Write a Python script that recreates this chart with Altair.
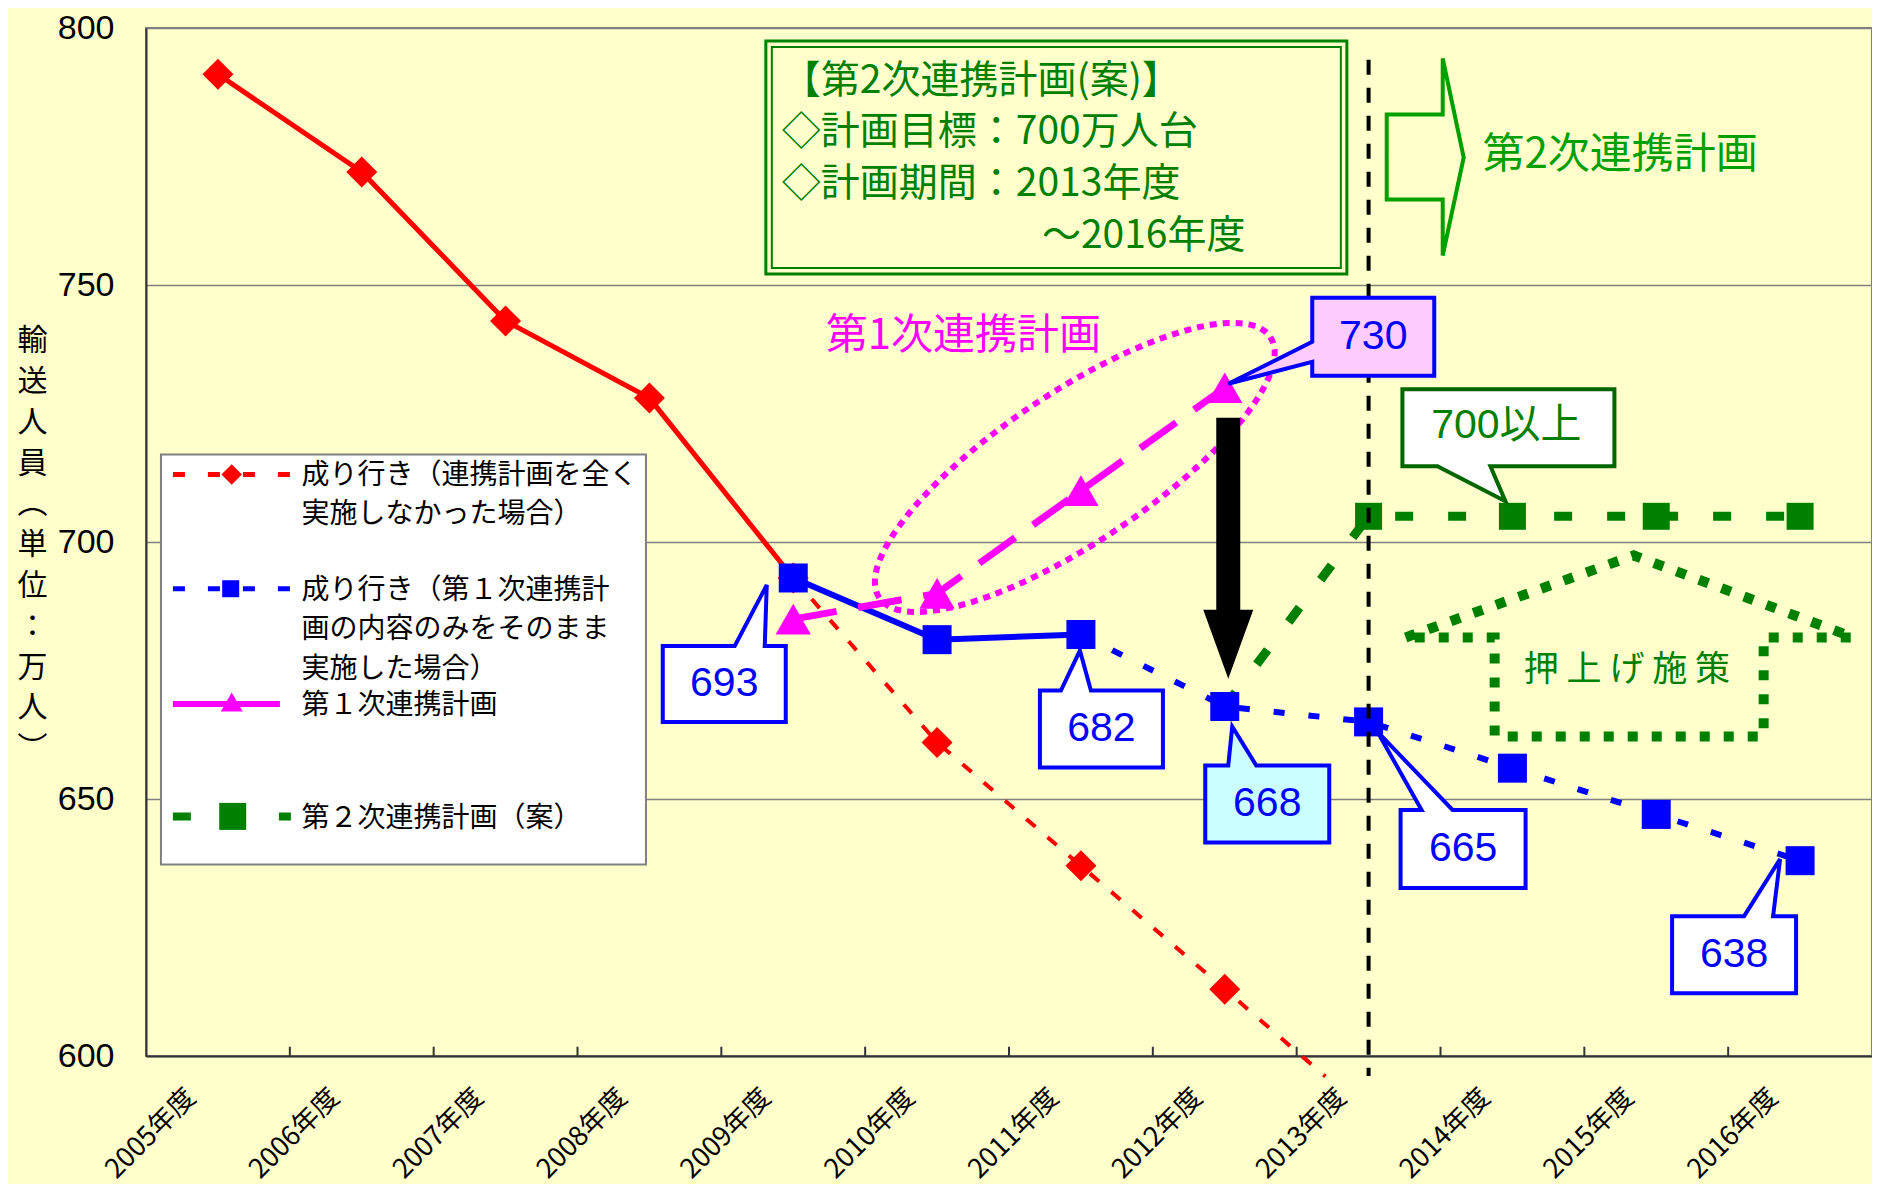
import altair as alt
import pandas as pd
import numpy as np

# ---------------- data ----------------
years = [2005, 2006, 2007, 2008, 2009, 2010, 2011, 2012, 2013, 2014, 2015, 2016]
tick_bounds = [2005.5, 2006.5, 2007.5, 2008.5, 2009.5, 2010.5, 2011.5, 2012.5, 2013.5, 2014.5, 2015.5]
y_ticks = [600, 650, 700, 750, 800]

red_solid_years = [2005, 2006, 2007, 2008, 2009]
red_solid_values = [791, 772, 743, 728, 693]
red_dot_years = [2009, 2010, 2011, 2012, 2012.7]
red_dot_values = [693, 661, 637, 613, 596]
red_marker_years = [2005, 2006, 2007, 2008, 2009, 2010, 2011, 2012]
red_marker_values = [791, 772, 743, 728, 693, 661, 637, 613]

blue_solid_years = [2009, 2010, 2011]
blue_solid_values = [693, 681, 682]
blue_dot_years = [2011, 2012, 2013, 2014, 2015, 2016]
blue_dot_values = [682, 668, 665, 656, 647, 638]

mag_years = [2009, 2010, 2011, 2012]
mag_values = [685, 690, 710, 730]

green_line_years = [2012, 2013, 2014, 2015, 2016]
green_line_values = [668, 705, 705, 705, 705]
green_marker_years = [2013, 2014, 2015, 2016]
green_marker_values = [705, 705, 705, 705]

legend_texts = [
    ["成り行き（連携計画を全く", "実施しなかった場合）"],
    ["成り行き（第１次連携計", "画の内容のみをそのまま", "実施した場合）"],
    "第１次連携計画",
    "第２次連携計画（案）",
]
plan_box_lines = ["【第2次連携計画(案)】", "◇計画目標：700万人台", "◇計画期間：2013年度"]
plan_box_last = "～2016年度"
y_title = ["輸", "送", "人", "員", "︵", "単", "位", "：", "万", "人", "︶"]

# ---------------- helpers ----------------
CJK = "Noto Sans CJK JP"
NUM = "Liberation Sans, Arial, Noto Sans CJK JP"
BG = "#FFFFCC"
XS = alt.Scale(domain=[2004.5, 2016.5], nice=False, zero=False)
YS = alt.Scale(domain=[600, 800], nice=False, zero=False)

XAX = alt.Axis(values=years, labelExpr="datum.value + '年度'", labelAngle=315, labelAlign="right",
               labelBaseline="middle", labelPadding=37, labelOffset=-27, labelFont=CJK, labelFontSize=27,
               labelColor="black", ticks=False, tickSize=0, grid=False, domainColor="#333333",
               domainWidth=2, title=None, labelOverlap=False, labelFlush=False)
YAX = alt.Axis(values=y_ticks, grid=True, gridColor="#808080", gridWidth=1.5,
               ticks=False, tickSize=0, labelPadding=32, labelFont=NUM, labelFontSize=34,
               labelColor="black", domainColor="#333333", domainWidth=2, title=None,
               labelFlush=False, labelOverlap=False)

X0, Y0, KX, KY = 146.0, 22.0, 144.33, 5.17


def to_year(px):
    return 2004.5 + (px - X0) / KX


def to_val(py):
    return 800.0 - (py - Y0) / KY


def xenc():
    return alt.X("year:Q", scale=XS, axis=XAX, title=None)


def yenc():
    return alt.Y("value:Q", scale=YS, axis=YAX, title=None)


def enc(ch):
    return ch.encode(x=xenc(), y=yenc())


def at(px, py):
    return pd.DataFrame({"year": [to_year(px)], "value": [to_val(py)]})


def at_data(yr, val):
    return pd.DataFrame({"year": [yr], "value": [val]})


def poly(pts, closed=True):
    s = "M" + " L".join(f"{x:.1f},{y:.1f}" for x, y in pts)
    return s + (" Z" if closed else "")


def shape(df, path, fill=None, stroke=None, sw=0, dash=None):
    kw = dict(shape=path, size=4, opacity=1, strokeWidth=sw)
    if fill is not None:
        kw.update(filled=True, fill=fill, fillOpacity=1)
    else:
        kw.update(filled=False)
    if stroke is not None:
        kw.update(stroke=stroke, strokeOpacity=1)
    if dash:
        kw["strokeDash"] = dash
    return enc(alt.Chart(df).mark_point(**kw))


def text(df, txt, size, color, font=CJK, align="center", baseline="middle", dx=0, dy=0, **kw):
    return enc(alt.Chart(df).mark_text(text=txt, fontSize=size, color=color, font=font,
                                       align=align, baseline=baseline, dx=dx, dy=dy, **kw))


def line(yrs, vals, color, width, dash=None):
    kw = dict(color=color, strokeWidth=width, clip=False)
    if dash:
        kw["strokeDash"] = dash
    return enc(alt.Chart(pd.DataFrame({"year": yrs, "value": vals})).mark_line(**kw))


def markers(yrs, vals, shp, size, color):
    return enc(alt.Chart(pd.DataFrame({"year": yrs, "value": vals})).mark_point(
        shape=shp, size=size, filled=True, fill=color, opacity=1, strokeWidth=0))


layers = []

# axis layer
layers.append(enc(alt.Chart(at_data(2005, 700)).mark_point(opacity=0)))

# inside ticks on the x axis
tick_df = pd.DataFrame({"year": tick_bounds, "value": [600] * len(tick_bounds),
                        "value2": [601.8] * len(tick_bounds)})
layers.append(alt.Chart(tick_df).mark_rule(color="#333333", strokeWidth=2).encode(
    x=xenc(), y=yenc(), y2="value2:Q"))

# top green double box
layers.append(shape(at(768, 35), poly([(0, 0), (581, 0), (581, 233), (0, 233)]), stroke="#008000", sw=3))
layers.append(shape(at(774, 41), poly([(0, 0), (569, 0), (569, 221), (0, 221)]), stroke="#008000", sw=2))
# block arrow
layers.append(shape(at(1391, 109), poly([(0, 0), (56, 0), (56, -56), (77, 43), (56, 141), (56, 85), (0, 85)]),
                    stroke="#00A000", sw=4))
# house
layers.append(shape(at(1410, 635), poly([(0, 0), (228, -82), (448, 0), (358, 0), (358, 99), (89, 99), (89, 0)]),
                    stroke="#008000", sw=10, dash=[10, 14]))
# ellipse
a_, b_ = 235, 75
ang = np.deg2rad(33.7)
u = (np.cos(ang), -np.sin(ang))
v = (np.sin(ang), np.cos(ang))
ts = np.linspace(0, 2 * np.pi, 145)[:-1]
ell = [(a_ * np.cos(t) * u[0] + b_ * np.sin(t) * v[0], a_ * np.cos(t) * u[1] + b_ * np.sin(t) * v[1]) for t in ts]
layers.append(shape(at(1078, 464), poly(ell), stroke="#FF00FF", sw=6, dash=[7, 6]))

# series lines
layers.append(line(red_solid_years, red_solid_values, "#FF0000", 5))
layers.append(line(red_dot_years, red_dot_values, "#FF0000", 4, [12, 16]))
layers.append(line(blue_solid_years, blue_solid_values, "#0000FF", 6))
layers.append(line(blue_dot_years, blue_dot_values, "#0000FF", 6, [11, 24]))
layers.append(line(green_line_years, green_line_values, "#008000", 9, [18, 35]))
layers.append(line(mag_years, mag_values, "#FF00FF", 7, [44, 22]))

# markers
layers.append(markers(red_marker_years, red_marker_values, "diamond", 961, "#FF0000"))
layers.append(markers(blue_solid_years + blue_dot_years[1:], blue_solid_values + blue_dot_values[1:], "square", 841, "#0000FF"))
layers.append(markers(green_marker_years, green_marker_values, "square", 729, "#008000"))
layers.append(markers(mag_years, mag_values, "triangle-up", 1250, "#FF00FF"))

# vertical dashed line at 2013
vdf = pd.DataFrame({"year": [2013], "value": [to_val(54)], "value2": [to_val(1076)]})
layers.append(alt.Chart(vdf).mark_rule(color="black", strokeWidth=4, strokeDash=[15, 13], clip=False).encode(
    x=xenc(), y=yenc(), y2="value2:Q"))

# black arrow
layers.append(shape(at(1232, 414), poly([(-12, 0), (12, 0), (12, 192), (25, 192), (0, 261), (-25, 192), (-12, 192)]),
                    fill="black"))


# callouts (box with a pointer), anchored at the data point they point to
def callout_top(l, r, t, b, b1, b2, tip):
    return poly([(l, t), (b1, t), tip, (b2, t), (r, t), (r, b), (l, b)])


callouts = [
    (2009, 693, "693", callout_top(-130.5, -7.5, 68, 144, -58.5, -28.5, (-26.5, 7)), "white", "#0000FF", (-69, 106)),
    (2011, 682, "682", callout_top(-41, 82, 56, 133, -20, 10, (-1, 16)), "white", "#0000FF", (20.5, 94.5)),
    (2012, 668, "668", callout_top(-19.5, 104.5, 59, 136, 3.5, 31.5, (7.5, 20)), "#CCFFFF", "#0000FF", (42.5, 97.5)),
    (2013, 665, "665", callout_top(32, 157, 88, 166, 53, 84, (9, 10)), "white", "#0000FF", (94.5, 127)),
    (2016, 638, "638", callout_top(-128, -4, 55.5, 132.5, -56, -27, (-20, -1.5)), "white", "#0000FF", (-66, 94)),
]
for yr, val, lab, path, fill, col, (tx, ty) in callouts:
    layers.append(shape(at_data(yr, val), path, fill=fill, stroke=col, sw=4))
    layers.append(text(at_data(yr, val), lab, 41, col, font=NUM, dx=tx, dy=ty))

# 730 (pointer on the left edge)
p730 = poly([(87.5, -90), (209.5, -90), (209.5, -12), (87.5, -12), (87.5, -26), (3.5, -4), (87.5, -46)])
layers.append(shape(at_data(2012, 730), p730, fill="#FFCCFF", stroke="#0000FF", sw=4))
layers.append(text(at_data(2012, 730), "730", 41, "#0000FF", font=NUM, dx=148.5, dy=-51))

# 700以上 (pointer on the bottom edge)
p700 = poly([(-110, -127), (102, -127), (102, -50), (-22, -50), (-7, -15), (-75, -50), (-110, -50)])
layers.append(shape(at_data(2014, 705), p700, fill="white", stroke="#006600", sw=4))
layers.append(text(at_data(2014, 705), "700以上", 41, "#008000", font=NUM, dx=-6, dy=-90))

# texts
layers.append(text(at(784, 75), plan_box_lines, 39, "#008000", align="left", lineHeight=51.7))
layers.append(text(at(1045, 231), plan_box_last, 39, "#008000", align="left"))
layers.append(text(at(1487, 150), "第2次連携計画", 42, "#00A000", align="left"))
layers.append(text(at(828, 332), "第1次連携計画", 42, "#FF00FF", align="left"))
layers.append(text(at(1632, 668), "押 上 げ 施 策", 35, "#008000"))

# y axis title (stacked vertically; anchor = first character)
layers.append(text(at(32, 337), y_title, 30, "black", lineHeight=40.8))

# legend
layers.append(shape(at(161, 451), poly([(0, 0), (485, 0), (485, 410), (0, 410)]), fill="white", stroke="#808080", sw=2))
layers.append(shape(at(173, 471), "M0,0 L118,0", stroke="#FF0000", sw=5, dash=[12, 23]))
layers.append(shape(at(173, 586), "M0,0 L118,0", stroke="#0000FF", sw=5, dash=[12, 23]))
layers.append(shape(at(173, 702), "M0,0 L107,0", stroke="#FF00FF", sw=6))
layers.append(shape(at(173, 815), "M0,0 L18,0 M106,0 L118,0", stroke="#008000", sw=8))
lm = [(232, 471, "diamond", 420, "#FF0000"), (231, 586, "square", 289, "#0000FF"),
      (232, 700, "triangle-up", 480, "#FF00FF"), (233, 815, "square", 729, "#008000")]
for px, py, shp, sz, col in lm:
    layers.append(enc(alt.Chart(at(px, py)).mark_point(shape=shp, size=sz, filled=True, fill=col,
                                                        opacity=1, strokeWidth=0)))
layers.append(text(at(302, 473), legend_texts[0], 28, "black", align="left", lineHeight=39))
layers.append(text(at(302, 588), legend_texts[1], 28, "black", align="left", lineHeight=39.5))
layers.append(text(at(302, 704), legend_texts[2], 28, "black", align="left"))
layers.append(text(at(302, 818), legend_texts[3], 28, "black", align="left"))

chart = alt.layer(*layers).properties(
    width=1726, height=1028,
    autosize=alt.AutoSizeParams(type="none"),
    padding={"left": 138, "top": 20, "right": 0, "bottom": 128},
    background=BG,
).configure_view(stroke="#808080", strokeWidth=2)

chart.save("out.html", embed_options={"renderer": "svg", "actions": False})
